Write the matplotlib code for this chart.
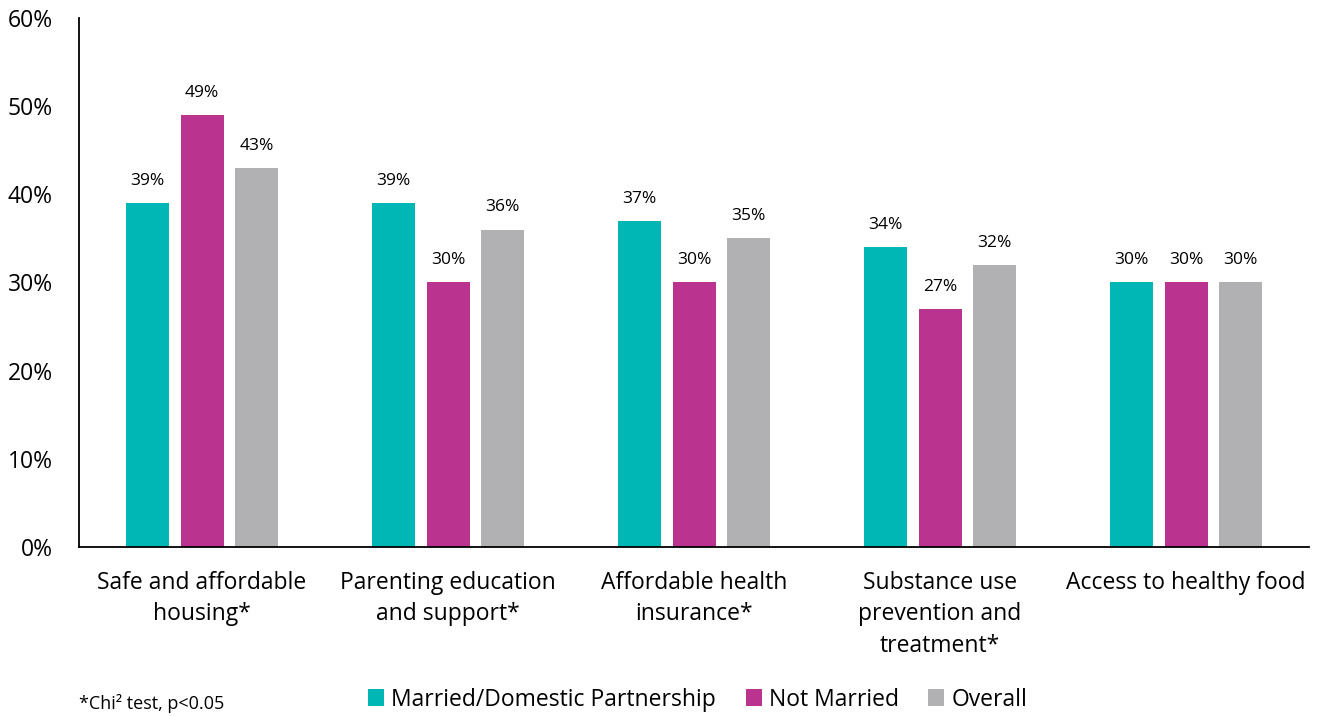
import numpy as np
import matplotlib.pyplot as plt
from matplotlib.ticker import PercentFormatter

plt.rcParams["font.family"] = ["Open Sans", "DejaVu Sans"]

categories = [
    "Safe and affordable\nhousing*",
    "Parenting education\nand support*",
    "Affordable health\ninsurance*",
    "Substance use\nprevention and\ntreatment*",
    "Access to healthy food",
]
series_names = ["Married/Domestic Partnership", "Not Married", "Overall"]
married = [39, 39, 37, 34, 30]
not_married = [49, 30, 30, 27, 30]
overall = [43, 36, 35, 32, 30]

colors = ["#00B7B5", "#BA348F", "#B1B1B3"]

fig = plt.figure(figsize=(13.24, 7.16), dpi=100)
ax = fig.add_axes([0.0597, 0.236, 0.929, 0.739])

x = np.arange(len(categories))
width = 0.175
step = 0.221
for i, (vals, name, color) in enumerate(zip([married, not_married, overall], series_names, colors)):
    pos = x + (i - 1) * step
    bars = ax.bar(pos, vals, width=width, color=color, label=name)
    for b, v in zip(bars, vals):
        ax.text(b.get_x() + b.get_width() / 2, v + 1.6, f"{v}%",
                ha="center", va="bottom", fontsize=12.5)

ax.set_xlim(-0.5, len(categories) - 0.5)
ax.set_ylim(0, 60)
ax.set_yticks(np.arange(0, 61, 10))
ax.yaxis.set_major_formatter(PercentFormatter(decimals=0))
ax.tick_params(axis="y", length=0, pad=19, labelsize=16.5)
ax.tick_params(axis="x", length=0, pad=17, labelsize=16.5)
ax.set_xticks(x)
ax.set_xticklabels(categories, va="top", linespacing=1.43)

for side in ["top", "right"]:
    ax.spines[side].set_visible(False)
for side in ["left", "bottom"]:
    ax.spines[side].set_linewidth(1.3)

fig.legend(loc="center", bbox_to_anchor=(0.527, 0.023), ncol=3, frameon=False,
           fontsize=16.5, handlelength=0.7, handleheight=0.7, handletextpad=0.3,
           columnspacing=1.3)
fig.text(0.06, 0.018, "*Chi² test, p<0.05", fontsize=13, va="center")

fig.savefig("out.png", dpi=100)
